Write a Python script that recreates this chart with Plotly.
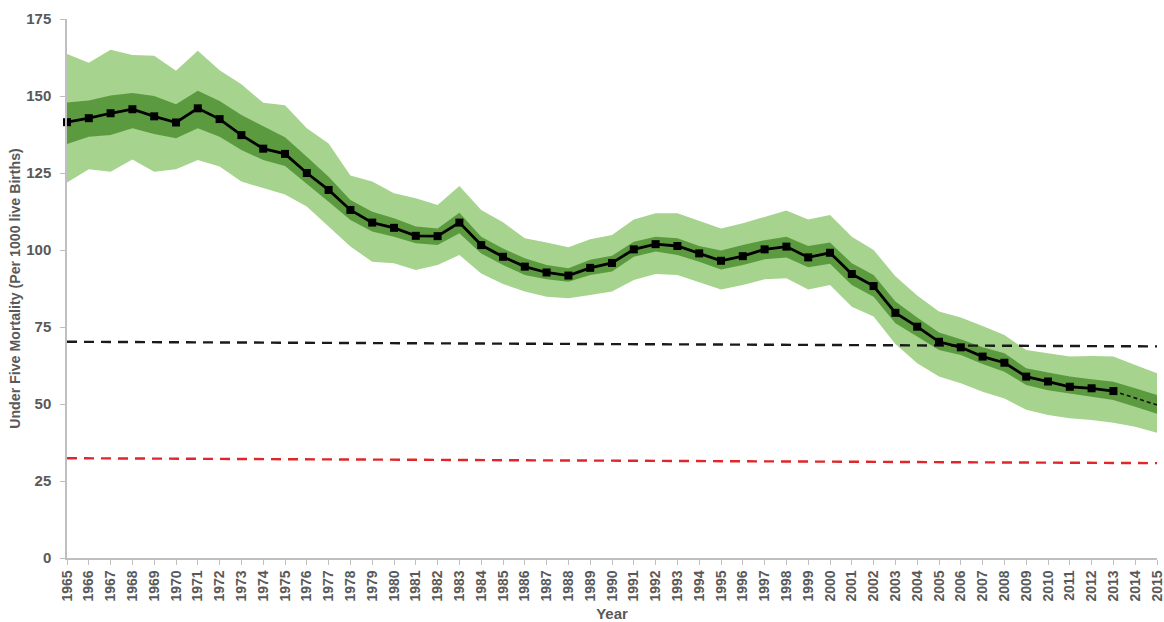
import plotly.graph_objects as go

years = list(range(1965, 2016))

# observed estimate (1965-2013)
mean_years = list(range(1965, 2014))
mean_vals = [141.5, 142.8, 144.4, 145.7, 143.4, 141.4, 146.0, 142.5, 137.3, 132.9,
             131.2, 125.0, 119.5, 113.0, 108.9, 107.2, 104.6, 104.5, 108.9, 101.6,
             97.8, 94.6, 92.7, 91.7, 94.2, 95.8, 100.2, 101.9, 101.3, 98.9,
             96.5, 98.0, 100.2, 101.1, 97.6, 99.1, 92.2, 88.3, 79.6, 75.1,
             70.2, 68.4, 65.4, 63.4, 58.9, 57.3, 55.6, 55.1, 54.2]

# projection (2013-2015)
proj_years = [2013, 2014, 2015]
proj_vals = [54.2, 51.9, 49.7]

outer_upper = [163.6, 160.8, 165.0, 163.3, 163.1, 158.2, 164.7, 158.4, 153.8, 147.8,
               147.0, 139.5, 134.6, 124.2, 122.2, 118.4, 116.8, 114.6, 120.8, 113.0,
               109.0, 103.8, 102.4, 100.9, 103.5, 104.9, 109.9, 111.9, 111.9, 109.5,
               107.0, 108.7, 110.8, 112.8, 109.9, 111.4, 104.3, 100.0, 91.5, 85.2,
               80.0, 78.1, 75.3, 72.4, 67.5, 66.5, 65.4, 65.6, 65.4, 62.7, 60.0]

inner_upper = [147.9, 148.5, 150.2, 151.0, 150.0, 147.3, 151.7, 148.4, 143.8, 140.3,
               136.6, 130.3, 123.8, 116.2, 112.4, 110.3, 107.6, 107.0, 112.1, 104.3,
               100.5, 97.3, 95.1, 94.1, 96.8, 98.1, 102.7, 104.3, 103.8, 101.3,
               99.8, 101.6, 103.2, 104.3, 101.3, 102.4, 95.7, 91.9, 83.3, 78.1,
               73.2, 71.0, 68.4, 66.5, 61.6, 60.2, 58.9, 58.0, 57.2, 55.1, 52.9]

inner_lower = [134.4, 136.8, 137.3, 139.5, 137.7, 136.3, 139.5, 136.8, 132.5, 129.2,
               127.3, 121.6, 115.7, 109.7, 106.0, 104.3, 102.2, 101.6, 105.4, 98.9,
               95.1, 91.9, 90.5, 89.7, 91.9, 93.0, 97.8, 99.5, 98.4, 96.2,
               93.7, 95.1, 97.0, 97.6, 94.4, 95.5, 88.6, 84.8, 76.2, 71.9,
               67.5, 65.9, 63.0, 60.5, 56.2, 54.5, 53.5, 52.4, 51.3, 49.1, 46.8]

outer_lower = [121.9, 126.2, 125.4, 129.4, 125.4, 126.2, 129.2, 127.1, 122.2, 120.0,
               118.0, 114.1, 107.6, 101.1, 96.2, 95.7, 93.5, 95.1, 98.4, 92.4,
               89.0, 86.5, 84.8, 84.3, 85.4, 86.5, 90.3, 92.2, 91.9, 89.5,
               87.2, 88.6, 90.5, 90.8, 87.2, 88.6, 81.6, 78.4, 69.5, 63.2,
               58.9, 56.7, 54.0, 51.8, 48.1, 46.4, 45.4, 44.8, 43.9, 42.6, 40.7]

ref_years = [1965, 2015]
black_ref = [70.2, 68.7]
red_ref = [32.4, 30.8]

y_ticks = [0, 25, 50, 75, 100, 125, 150, 175]

LIGHT = "#a6d38d"
DARK = "#5b9a3f"
GRAY = "#595959"
FONT = "Liberation Sans"

fig = go.Figure()

fig.add_trace(go.Scatter(x=years, y=outer_lower, mode="lines", line=dict(width=0),
                         hoverinfo="skip", showlegend=False))
fig.add_trace(go.Scatter(x=years, y=outer_upper, mode="lines", line=dict(width=0),
                         fill="tonexty", fillcolor=LIGHT, hoverinfo="skip", showlegend=False))
fig.add_trace(go.Scatter(x=years, y=inner_lower, mode="lines", line=dict(width=0),
                         hoverinfo="skip", showlegend=False))
fig.add_trace(go.Scatter(x=years, y=inner_upper, mode="lines", line=dict(width=0),
                         fill="tonexty", fillcolor=DARK, hoverinfo="skip", showlegend=False))

fig.add_trace(go.Scatter(x=ref_years, y=black_ref, mode="lines",
                         line=dict(color="#1a1a1a", width=2.4, dash="10px,7px"),
                         showlegend=False))
fig.add_trace(go.Scatter(x=ref_years, y=red_ref, mode="lines",
                         line=dict(color="#e0262b", width=2.4, dash="10px,7px"),
                         showlegend=False))

fig.add_trace(go.Scatter(x=proj_years, y=proj_vals, mode="lines",
                         line=dict(color="#111111", width=1.6, dash="4px,3px"),
                         showlegend=False))
fig.add_trace(go.Scatter(x=mean_years, y=mean_vals, mode="lines+markers",
                         line=dict(color="#000000", width=2.8),
                         marker=dict(symbol="square", size=8, color="#000000"),
                         cliponaxis=False, showlegend=False))

fig.update_layout(
    width=1164, height=622,
    margin=dict(l=67, r=7, t=19, b=64),
    paper_bgcolor="white", plot_bgcolor="white",
    font=dict(family=FONT, color=GRAY),
    xaxis=dict(
        range=[1964.9999, 2015.0001],
        automargin=False,
        tickmode="array", tickvals=years, ticktext=[str(y) for y in years],
        tickangle=-90,
        ticklabeloverflow="allow",
        tickfont=dict(family=FONT, size=14, color=GRAY, weight="bold"),
        showgrid=False, zeroline=False,
        showline=True, linecolor="#bfbfbf", linewidth=1.5,
        ticks="outside", ticklen=5, tickcolor="#bfbfbf",
        title=dict(text="Year", font=dict(family=FONT, size=15, color=GRAY, weight="bold"),
                   standoff=8),
    ),
    yaxis=dict(
        range=[0, 175],
        automargin=False,
        tickmode="array", tickvals=y_ticks,
        tickfont=dict(family=FONT, size=15, color=GRAY, weight="bold"),
        ticklabelstandoff=6,
        showgrid=False, zeroline=False,
        showline=True, linecolor="#bfbfbf", linewidth=1.5,
        ticks="outside", ticklen=5, tickcolor="#bfbfbf",
        title=dict(text="Under Five Mortality (Per 1000 live Births)",
                   font=dict(family=FONT, size=14.2, color=GRAY, weight="bold"),
                   standoff=2),
    ),
)

fig.write_html("out.html",
               config={"displayModeBar": False},
               post_script="document.body.style.margin='0';document.body.style.overflow='hidden';")
